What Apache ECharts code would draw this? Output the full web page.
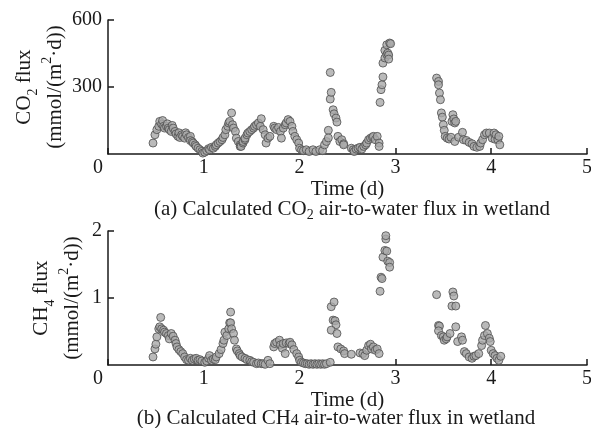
<!DOCTYPE html>
<html>
<head>
<meta charset="utf-8">
<script src="https://cdn.jsdelivr.net/npm/echarts@6/dist/echarts.min.js"></script>
<style>html,body{margin:0;padding:0;background:#fff;}#c{width:591px;height:428px;}</style>
</head>
<body>
<div id="c"></div>
<script>
// ---- Data ----
const xTicks = [0, 1, 2, 3, 4, 5];
const co2Ticks = [0, 300, 600];
const ch4Ticks = [0, 1, 2];

const co2Time = [0.47,0.49,0.51,0.53,0.54,0.56,0.57,0.58,0.59,0.61,0.62,0.63,0.64,0.66,0.67,0.68,0.70,0.71,0.73,0.74,0.75,0.77,0.78,0.80,0.81,0.82,0.84,0.86,0.86,0.88,0.89,0.91,0.92,0.94,0.96,0.98,0.99,1.01,1.03,1.05,1.06,1.08,1.10,1.12,1.13,1.15,1.17,1.19,1.20,1.22,1.23,1.25,1.26,1.27,1.29,1.30,1.31,1.33,1.34,1.36,1.38,1.38,1.39,1.41,1.41,1.43,1.43,1.45,1.46,1.48,1.50,1.52,1.53,1.55,1.57,1.59,1.60,1.62,1.64,1.65,1.67,1.69,1.73,1.74,1.76,1.78,1.80,1.81,1.83,1.85,1.86,1.88,1.90,1.92,1.93,1.95,1.97,1.99,2.00,2.02,2.04,2.07,2.10,2.14,2.17,2.21,2.24,2.26,2.28,2.30,2.30,2.32,2.32,2.33,2.35,2.36,2.38,2.39,2.40,2.42,2.44,2.46,2.46,2.54,2.56,2.57,2.59,2.61,2.63,2.65,2.67,2.69,2.70,2.72,2.74,2.76,2.77,2.79,2.81,2.83,2.83,2.84,2.85,2.86,2.87,2.87,2.89,2.89,2.91,2.91,2.92,2.93,2.93,2.94,2.95,3.43,3.45,3.45,3.46,3.47,3.48,3.49,3.50,3.51,3.52,3.54,3.56,3.58,3.59,3.60,3.61,3.62,3.62,3.63,3.66,3.70,3.71,3.74,3.77,3.80,3.82,3.85,3.88,3.89,3.91,3.93,3.95,3.98,4.01,4.03,4.04,4.05,4.07,4.08,4.09];
const co2Flux = [49,86,109,124,146,134,150,124,116,124,135,116,109,101,128,116,101,90,79,95,74,86,79,71,95,86,74,79,60,55,49,41,34,26,19,12,4,8,15,24,19,30,26,34,41,49,56,64,74,86,109,124,139,146,184,131,116,101,71,56,41,34,34,49,56,64,71,86,94,101,109,116,124,131,139,124,158,109,86,49,71,79,124,116,109,119,101,71,116,131,139,154,146,124,101,79,64,49,26,19,15,19,11,19,11,19,15,41,56,106,72,365,246,276,198,180,161,143,79,56,64,46,41,26,19,11,22,26,30,22,34,41,49,64,71,75,79,64,79,49,34,231,288,310,345,407,430,464,445,489,452,443,425,497,494,340,325,310,273,243,184,165,131,106,79,71,67,75,146,176,157,139,56,146,75,97,64,61,52,46,34,30,34,49,64,86,94,94,71,94,66,86,64,79,41];

const ch4Time = [0.47,0.49,0.50,0.51,0.53,0.54,0.55,0.56,0.58,0.59,0.61,0.63,0.64,0.66,0.68,0.70,0.71,0.72,0.74,0.76,0.78,0.80,0.82,0.84,0.86,0.88,0.90,0.92,0.94,0.96,0.98,1.01,1.03,1.05,1.06,1.08,1.10,1.12,1.13,1.16,1.18,1.20,1.21,1.22,1.24,1.26,1.27,1.28,1.28,1.29,1.31,1.32,1.34,1.35,1.37,1.38,1.40,1.43,1.45,1.48,1.50,1.52,1.55,1.57,1.60,1.62,1.64,1.67,1.69,1.73,1.74,1.76,1.79,1.80,1.82,1.83,1.85,1.86,1.89,1.90,1.92,1.94,1.97,1.99,2.00,2.02,2.04,2.06,2.08,2.10,2.12,2.14,2.16,2.18,2.20,2.22,2.24,2.26,2.28,2.32,2.33,2.36,2.35,2.37,2.38,2.33,2.39,2.40,2.43,2.46,2.47,2.54,2.63,2.66,2.68,2.70,2.72,2.74,2.75,2.77,2.79,2.81,2.83,2.84,2.85,2.86,2.87,2.89,2.90,2.90,2.91,2.92,2.94,2.94,3.43,3.45,3.46,3.45,3.48,3.50,3.51,3.53,3.54,3.57,3.59,3.60,3.61,3.63,3.63,3.65,3.69,3.70,3.72,3.74,3.77,3.80,3.82,3.84,3.87,3.90,3.91,3.93,3.94,3.96,3.98,3.99,4.00,4.02,4.04,4.06,4.08,4.10];
const ch4Flux = [0.12,0.24,0.31,0.42,0.54,0.57,0.71,0.54,0.52,0.49,0.47,0.44,0.39,0.47,0.43,0.37,0.32,0.27,0.23,0.20,0.17,0.12,0.08,0.07,0.10,0.07,0.09,0.10,0.07,0.08,0.06,0.04,0.06,0.10,0.14,0.07,0.09,0.08,0.12,0.17,0.23,0.32,0.37,0.49,0.44,0.54,0.63,0.63,0.79,0.54,0.47,0.37,0.24,0.21,0.17,0.14,0.12,0.10,0.08,0.07,0.05,0.04,0.02,0.03,0.02,0.02,0.01,0.07,0.02,0.27,0.32,0.34,0.37,0.30,0.25,0.32,0.17,0.33,0.32,0.34,0.30,0.23,0.17,0.12,0.07,0.04,0.03,0.02,0.02,0.01,0.02,0.01,0.02,0.01,0.02,0.01,0.02,0.01,0.02,0.04,0.87,0.94,0.67,0.66,0.60,0.52,0.47,0.27,0.24,0.21,0.17,0.16,0.18,0.17,0.14,0.22,0.29,0.31,0.24,0.27,0.22,0.24,0.17,1.10,1.31,1.29,1.61,1.71,1.88,1.93,1.70,1.55,1.53,1.46,1.05,0.59,0.58,0.51,0.44,0.42,0.37,0.39,0.42,0.47,0.88,1.09,1.03,0.88,0.57,0.35,0.42,0.37,0.20,0.17,0.12,0.10,0.13,0.14,0.17,0.29,0.37,0.44,0.59,0.47,0.40,0.35,0.22,0.17,0.14,0.10,0.07,0.13];

const zip = (a, b) => a.map((v, i) => [v, b[i]]);

// ---- Styles ----
const FONT = '"Liberation Serif", "Times New Roman", serif';
const INK = '#1a1a1a';
const rich = {
  sub: { fontFamily: FONT, fontSize: 14, color: INK, verticalAlign: 'bottom', lineHeight: 14 },
  sup: { fontFamily: FONT, fontSize: 14, color: INK, verticalAlign: 'top', lineHeight: 14 }
};

function xAxisCfg(gridIndex) {
  return {
    gridIndex, type: 'value', min: xTicks[0], max: xTicks[xTicks.length - 1], interval: 1,
    name: 'Time (d)', nameLocation: 'middle', nameGap: 25, nameMoveOverlap: false,
    nameTextStyle: { fontFamily: FONT, fontSize: 21, color: INK },
    axisLine: { show: true, lineStyle: { color: INK, width: 1.5 } },
    axisTick: { show: true, inside: true, length: 6, lineStyle: { color: INK, width: 1.5 } },
    splitLine: { show: false },
    axisLabel: {
      fontFamily: FONT, fontSize: 20, color: INK, margin: 4,
      formatter: v => (v === 0 ? '{z|0}' : String(v)),
      rich: { z: { fontFamily: FONT, fontSize: 20, color: INK, padding: [0, 20, 0, 0] } }
    }
  };
}
function yAxisCfg(gridIndex, ticks, nameText, gap) {
  return {
    gridIndex, type: 'value', min: ticks[0], max: ticks[ticks.length - 1], interval: ticks[1] - ticks[0],
    name: nameText, nameLocation: 'middle', nameRotate: 90, nameGap: gap, nameMoveOverlap: false,
    nameTextStyle: { fontFamily: FONT, fontSize: 21, color: INK, lineHeight: 31, rich: rich },
    axisLine: { show: true, lineStyle: { color: INK, width: 1.5 } },
    axisTick: { show: true, inside: true, length: 6, lineStyle: { color: INK, width: 1.5 } },
    splitLine: { show: false },
    axisLabel: { fontFamily: FONT, fontSize: 20, color: INK, margin: 6, showMinLabel: false }
  };
}
const markerStyle = { color: '#a9a9a9', borderColor: '#4d4d4d', borderWidth: 1 };

const chart = echarts.init(document.getElementById('c'), null, { renderer: 'canvas' });
chart.setOption({
  animation: false,
  backgroundColor: '#fff',
  grid: [
    { left: 108, top: 20, width: 479, height: 134, containLabel: false, outerBoundsMode: 'none' },
    { left: 108, top: 231, width: 479, height: 134, containLabel: false, outerBoundsMode: 'none' }
  ],
  xAxis: [xAxisCfg(0), xAxisCfg(1)],
  yAxis: [
    yAxisCfg(0, co2Ticks, 'CO{sub|2} flux\n(mmol/(m{sup|2}·d))', 37),
    yAxisCfg(1, ch4Ticks, 'CH{sub|4} flux\n(mmol/(m{sup|2}·d))', 20)
  ],
  graphic: [
    { type: 'text', x: 352, y: 209, style: { text: '(a) Calculated CO{sub|2} air-to-water flux in wetland', fontFamily: FONT, fontSize: 21, fill: INK, align: 'center', verticalAlign: 'middle', rich: { sub: { fontFamily: FONT, fontSize: 14, fill: INK, verticalAlign: 'bottom', padding: [0,0,-3,0] } } } },
    { type: 'text', x: 336, y: 418, style: { text: '(b) Calculated CH{sub|4} air-to-water flux in wetland', fontFamily: FONT, fontSize: 21, fill: INK, align: 'center', verticalAlign: 'middle', rich: { sub: { fontFamily: FONT, fontSize: 16, fill: INK, verticalAlign: 'bottom' } } } }
  ],
  series: [
    { type: 'scatter', xAxisIndex: 0, yAxisIndex: 0, symbol: 'circle', symbolSize: 8, itemStyle: markerStyle, data: zip(co2Time, co2Flux) },
    { type: 'scatter', xAxisIndex: 1, yAxisIndex: 1, symbol: 'circle', symbolSize: 8, itemStyle: markerStyle, data: zip(ch4Time, ch4Flux) }
  ]
});
</script>
</body>
</html>
